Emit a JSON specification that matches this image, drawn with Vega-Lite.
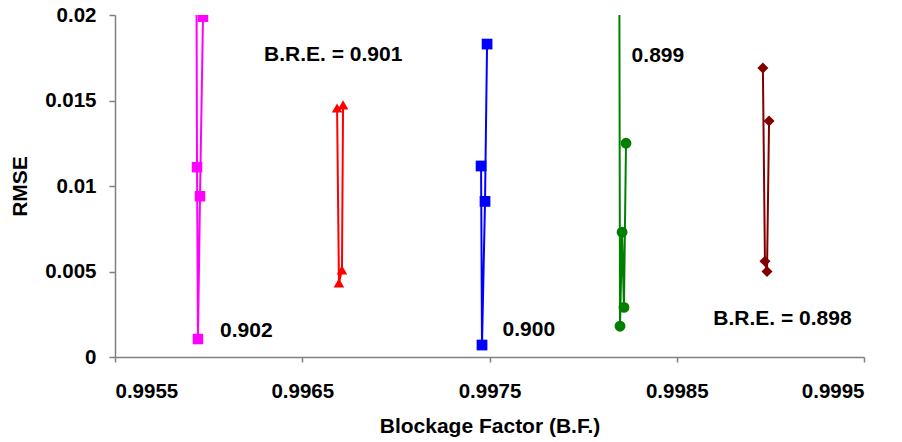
{
  "$schema": "https://vega.github.io/schema/vega-lite/v6.json",
  "autosize": "none",
  "width": 749,
  "height": 342,
  "padding": {"left": 115, "top": 15, "right": 38, "bottom": 85},
  "background": "white",
  "config": {
    "view": {"stroke": null},
    "font": "Liberation Sans",
    "axis": {"grid": false, "domainColor": "#808080", "tickColor": "#808080", "domainWidth": 1.5, "tickWidth": 1.5,
             "labelFont": "Liberation Sans", "labelFontWeight": "bold", "labelFontSize": 20.5, "labelColor": "black",
             "titleFont": "Liberation Sans", "titleFontWeight": "bold", "titleFontSize": 21, "titleColor": "black"}
  },
  "datasets": {
    "series": [
      {"series": "s902", "bf": 0.995933, "rmse": 0.03},
      {"series": "s902", "bf": 0.995938, "rmse": 0.0111},
      {"series": "s902", "bf": 0.995943, "rmse": 0.00105},
      {"series": "s902", "bf": 0.995954, "rmse": 0.0094},
      {"series": "s902", "bf": 0.99597, "rmse": 0.0199},
      {"series": "s901", "bf": 0.996686, "rmse": 0.01456},
      {"series": "s901", "bf": 0.996696, "rmse": 0.00433},
      {"series": "s901", "bf": 0.996712, "rmse": 0.00509},
      {"series": "s901", "bf": 0.996718, "rmse": 0.01474},
      {"series": "s900", "bf": 0.997455, "rmse": 0.01117},
      {"series": "s900", "bf": 0.99746, "rmse": 0.0007},
      {"series": "s900", "bf": 0.997476, "rmse": 0.0091},
      {"series": "s900", "bf": 0.997487, "rmse": 0.0183},
      {"series": "s899", "bf": 0.998192, "rmse": 0.03},
      {"series": "s899", "bf": 0.998197, "rmse": 0.0018},
      {"series": "s899", "bf": 0.998208, "rmse": 0.0073},
      {"series": "s899", "bf": 0.998218, "rmse": 0.0029},
      {"series": "s899", "bf": 0.998229, "rmse": 0.0125},
      {"series": "s898", "bf": 0.99896, "rmse": 0.0169},
      {"series": "s898", "bf": 0.998971, "rmse": 0.0056},
      {"series": "s898", "bf": 0.998982, "rmse": 0.005},
      {"series": "s898", "bf": 0.998993, "rmse": 0.0138}
    ],
    "labels": [
      {"text": "B.R.E. = 0.901", "bf": 0.996296, "rmse": 0.01731},
      {"text": "0.902", "bf": 0.996061, "rmse": 0.00119},
      {"text": "0.900", "bf": 0.99757, "rmse": 0.0012},
      {"text": "0.899", "bf": 0.998259, "rmse": 0.01728},
      {"text": "B.R.E. = 0.898", "bf": 0.998695, "rmse": 0.00187}
    ]
  },
  "encoding": {
    "x": {"field": "bf", "type": "quantitative", "scale": {"domain": [0.9955, 0.9995], "nice": false, "zero": false},
          "axis": {"values": [0.9955, 0.9965, 0.9975, 0.9985, 0.9995], "format": ".4f", "tickSize": 5, "labelPadding": 19, "titlePadding": 14, "title": "Blockage Factor (B.F.)"}},
    "y": {"field": "rmse", "type": "quantitative", "scale": {"domain": [0, 0.02], "nice": false, "zero": false},
          "axis": {"values": [0, 0.005, 0.01, 0.015, 0.02], "format": "~g", "tickSize": 6, "labelPadding": 13, "titlePadding": 14, "title": "RMSE"}}
  },
  "layer": [
    {
      "data": {"name": "series"},
      "mark": {"type": "line", "clip": true, "strokeWidth": 2},
      "encoding": {
        "detail": {"field": "series"},
        "color": {"field": "series", "type": "nominal", "legend": null,
                  "scale": {"domain": ["s902", "s901", "s900", "s899", "s898"], "range": ["#FF00FF", "#FF0000", "#0000FF", "#008000", "#800000"]}}
      }
    },
    {
      "data": {"name": "series"},
      "mark": {"type": "point", "clip": true, "filled": true, "opacity": 1},
      "encoding": {
        "color": {"field": "series", "type": "nominal", "legend": null,
                  "scale": {"domain": ["s902", "s901", "s900", "s899", "s898"], "range": ["#FF00FF", "#FF0000", "#0000FF", "#008000", "#800000"]}},
        "shape": {"field": "series", "type": "nominal", "legend": null,
                  "scale": {"domain": ["s902", "s901", "s900", "s899", "s898"], "range": ["square", "triangle-up", "square", "circle", "diamond"]}},
        "size": {"field": "series", "type": "nominal", "legend": null,
                 "scale": {"domain": ["s902", "s901", "s900", "s899", "s898"], "range": [110, 121, 121, 100, 135]}}
      }
    },
    {
      "data": {"name": "labels"},
      "mark": {"type": "text", "align": "left", "baseline": "alphabetic", "font": "Liberation Sans", "fontWeight": "bold", "fontSize": 21, "color": "black"},
      "encoding": {"text": {"field": "text"}}
    }
  ]
}
